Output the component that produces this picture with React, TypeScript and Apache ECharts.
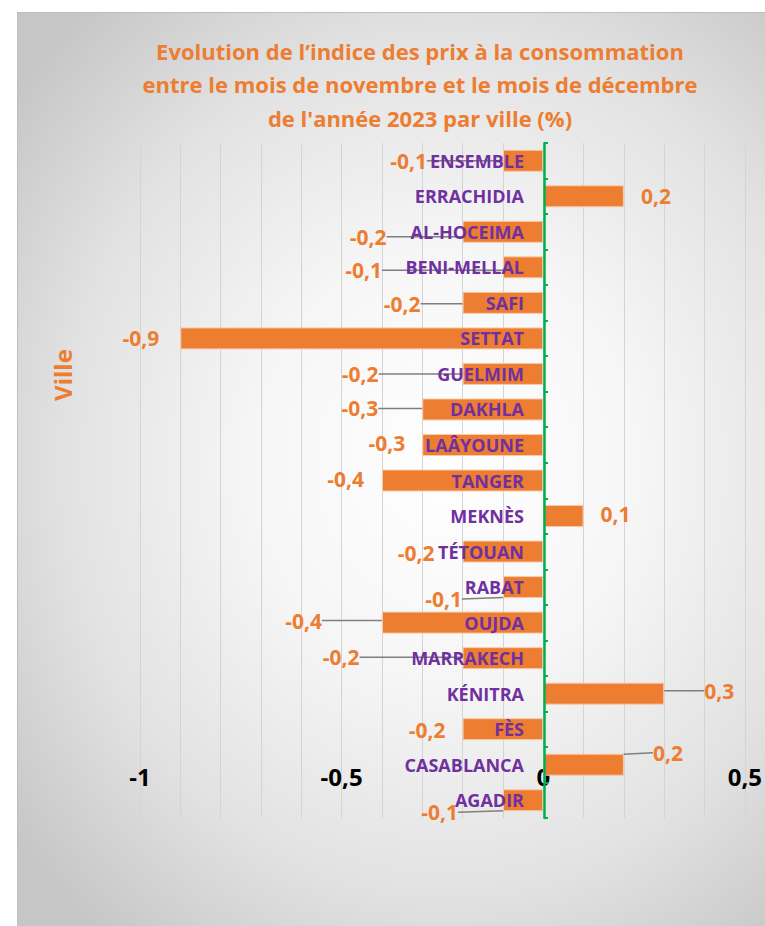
import React, { useEffect, useRef } from "react";
import * as echarts from "echarts";

const cities = [
  "ENSEMBLE", "ERRACHIDIA", "AL-HOCEIMA", "BENI-MELLAL", "SAFI", "SETTAT",
  "GUELMIM", "DAKHLA", "LAÂYOUNE", "TANGER", "MEKNÈS", "TÉTOUAN", "RABAT",
  "OUJDA", "MARRAKECH", "KÉNITRA", "FÈS", "CASABLANCA", "AGADIR",
];
const changes = [
  -0.1, 0.2, -0.2, -0.1, -0.2, -0.9, -0.2, -0.3, -0.3, -0.4, 0.1, -0.2, -0.1,
  -0.4, -0.2, 0.3, -0.2, 0.2, -0.1,
];
const titleText =
  "Evolution de l’indice des prix à la consommation\nentre le mois de novembre et le mois de décembre\nde l'année 2023 par ville (%)";
const axisName = "Ville";

// label nudges (dx, dy) relative to default position, and whether a leader line is drawn
const labelShift: [number, number][] = [
  [-71, 0], [12, 0], [-71, 5], [-116, 3], [-37, 1], [-16, 0], [-79, 0], [-39, -1],
  [-12, -2], [-13, -2], [12, -2], [-23, 1], [-36, 12], [-55, -2], [-98, -1],
  [35, -3], [-12, 1], [24, -12], [-40, 12],
];
const leader = [
  true, false, true, true, true, false, true, true, false, false, false, false,
  true, true, true, true, false, true, true,
];

const ORANGE = "#ED7D31";
const PURPLE = "#7030A0";
const FONT = "'Open Sans', 'Liberation Sans', sans-serif";
const fmt = (v: number) => String(Math.round(v * 10) / 10).replace(".", ",");

const GRID_LEFT = 140;
const GRID_RIGHT = 19;
const X_MIN = -1;
const X_MAX = 0.5;

export default function App() {
  const ref = useRef<HTMLDivElement>(null);
  useEffect(() => {
    if (!ref.current) return;
    const chart = echarts.init(ref.current, null, { renderer: "svg" });
    const plotW = 765 - GRID_LEFT - GRID_RIGHT;
    const zeroOffset = (-X_MIN / (X_MAX - X_MIN)) * plotW;
    chart.setOption({
      animation: false,
      textStyle: { fontFamily: FONT },
      title: {
        text: titleText,
        left: 415,
        top: 29,
        textAlign: "center",
        textStyle: {
          color: ORANGE,
          fontSize: 22,
          fontWeight: "bold",
          lineHeight: 33.5,
          fontFamily: FONT,
        },
      },
      graphic: [
        {
          type: "text",
          x: 62,
          y: 375,
          rotation: Math.PI / 2,
          style: {
            text: axisName,
            fill: ORANGE,
            font: `bold 24px ${FONT}`,
            align: "center",
            verticalAlign: "middle",
          },
        },
      ],
      grid: { left: GRID_LEFT, right: GRID_RIGHT, top: 143, bottom: 108, containLabel: false },
      xAxis: {
        type: "value",
        min: X_MIN,
        max: X_MAX,
        interval: 0.1,
        axisLine: { show: false },
        axisTick: { show: false },
        splitLine: { show: true, lineStyle: { color: "#d4d4d4", width: 1 } },
        axisLabel: {
          margin: -54,
          color: "#000",
          fontSize: 24,
          fontWeight: "bold",
          fontFamily: FONT,
          formatter: (v: number) =>
            Math.abs(v * 2 - Math.round(v * 2)) < 1e-6 ? fmt(v) : "",
        },
      },
      yAxis: {
        type: "category",
        data: cities,
        inverse: true,
        z: 10,
        offset: -zeroOffset,
        axisLine: { show: true, onZero: false, lineStyle: { color: "#00B050", width: 2.5 } },
        axisTick: { show: true, inside: true, length: 4, lineStyle: { color: "#00B050", width: 2 } },
        axisLabel: {
          margin: 20,
          color: PURPLE,
          fontSize: 18,
          fontWeight: "bold",
          fontFamily: FONT,
        },
        splitLine: { show: false },
      },
      series: [
        {
          type: "bar",
          barWidth: 22,
          itemStyle: { color: ORANGE, borderColor: "#F8CBAD", borderWidth: 1 },
          data: changes.map((v, i) => ({
            value: v,
            label: { position: v < 0 ? "left" : "right" },
            labelLine: { show: leader[i] },
          })),
          label: {
            show: true,
            distance: 5,
            color: ORANGE,
            fontSize: 21,
            fontWeight: "bold",
            fontFamily: FONT,
            formatter: (p: any) => fmt(p.value),
          },
          labelLine: { show: false, lineStyle: { color: "#7f7f7f", width: 1.5 } },
          labelLayout: (p: any) => ({
            dx: labelShift[p.dataIndex][0],
            dy: labelShift[p.dataIndex][1],
          }),
        },
      ],
    });
    return () => chart.dispose();
  }, []);
  return (
    <div style={{ position: "fixed", left: 0, top: 0, width: 765, height: 926, background: "#fff", overflow: "hidden" }}>
      <div
        style={{
          position: "absolute",
          left: 17,
          top: 12,
          width: 780,
          height: 940,
          borderLeft: "1px solid #bdbdbd",
          borderTop: "1px solid #bdbdbd",
          background:
            "radial-gradient(ellipse 70% 65% at 55% 48%, #ffffff 0%, #f6f6f6 35%, #e2e2e2 70%, #c6c6c6 100%)",
        }}
      />
      <div ref={ref} style={{ position: "absolute", left: 0, top: 0, width: 765, height: 926 }} />
    </div>
  );
}
